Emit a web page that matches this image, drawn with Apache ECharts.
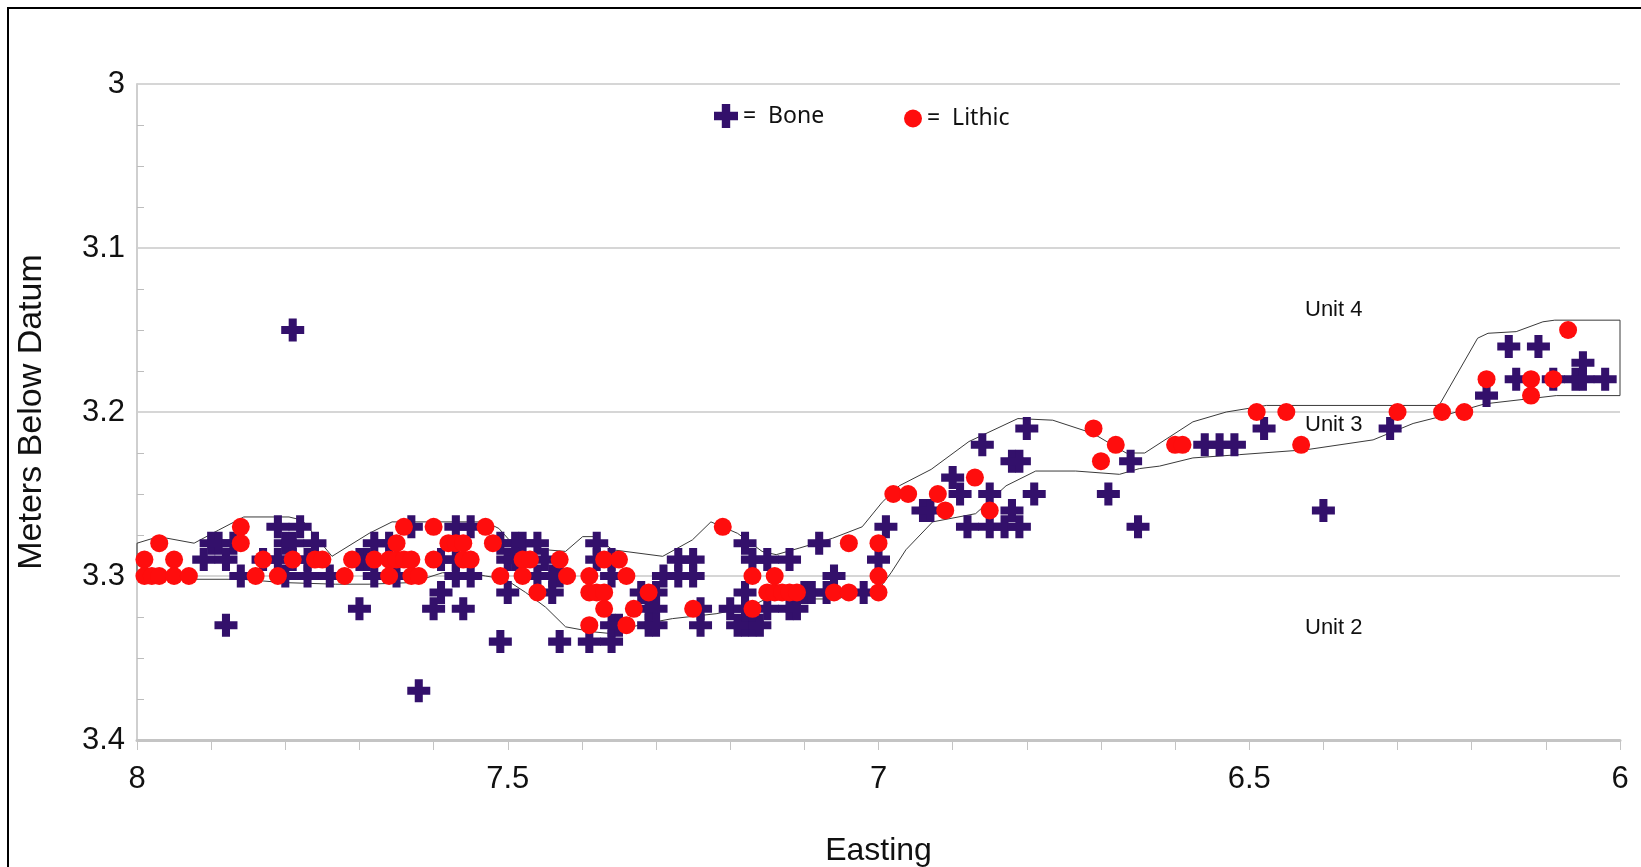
<!DOCTYPE html>
<html>
<head>
<meta charset="utf-8">
<script src="https://cdn.jsdelivr.net/npm/echarts@6/dist/echarts.min.js"></script>
<style>
  html, body { margin: 0; padding: 0; background: #fff; }
  #chart { width: 1641px; height: 867px; }
</style>
</head>
<body>
<div id="chart"></div>
<script>
// ---- Data (Easting, Meters Below Datum) ----
const boneData = [
  [7.91,3.29],[7.90,3.28],[7.89,3.28],[7.88,3.29],[7.87,3.28],[7.86,3.30],[7.88,3.33],
  [7.81,3.27],[7.78,3.27],[7.80,3.28],[7.79,3.28],[7.76,3.28],[7.81,3.29],[7.79,3.29],[7.77,3.29],[7.83,3.29],
  [7.80,3.30],[7.77,3.30],[7.74,3.30],[7.70,3.32],[7.79,3.15],
  [7.68,3.28],[7.69,3.29],[7.68,3.30],[7.65,3.30],[7.66,3.28],[7.70,3.29],
  [7.63,3.27],[7.62,3.37],[7.59,3.31],[7.60,3.32],[7.56,3.32],
  [7.57,3.27],[7.55,3.27],[7.57,3.29],[7.59,3.29],[7.57,3.30],[7.55,3.30],
  [7.51,3.34],[7.50,3.31],[7.51,3.28],[7.49,3.28],[7.48,3.28],[7.46,3.28],[7.50,3.29],[7.49,3.29],
  [7.44,3.31],[7.45,3.29],[7.43,3.30],[7.46,3.30],[7.44,3.30],
  [7.43,3.34],[7.39,3.34],[7.36,3.34],
  [7.38,3.28],[7.38,3.29],[7.36,3.29],[7.36,3.30],[7.32,3.31],[7.30,3.31],
  [7.31,3.32],[7.30,3.32],[7.31,3.33],[7.30,3.33],[7.36,3.33],[7.35,3.33],
  [7.29,3.30],[7.27,3.29],[7.25,3.29],[7.27,3.30],[7.25,3.30],
  [7.24,3.32],[7.24,3.33],
  [7.18,3.28],[7.17,3.29],[7.15,3.29],[7.12,3.29],[7.18,3.31],
  [7.20,3.32],[7.18,3.32],[7.18,3.33],[7.17,3.33],[7.19,3.33],[7.16,3.33],
  [7.15,3.32],[7.12,3.32],[7.11,3.32],[7.10,3.31],[7.09,3.31],[7.07,3.31],
  [7.08,3.28],[7.06,3.30],[7.02,3.31],[7.00,3.29],[6.99,3.27],
  [6.94,3.26],[6.93,3.26],[6.90,3.24],[6.89,3.25],[6.85,3.25],
  [6.88,3.27],[6.85,3.27],[6.83,3.27],[6.81,3.27],[6.82,3.26],
  [6.82,3.23],[6.81,3.23],[6.86,3.22],[6.80,3.21],[6.79,3.25],
  [6.66,3.23],[6.69,3.25],[6.65,3.27],
  [6.56,3.22],[6.54,3.22],[6.52,3.22],[6.48,3.21],[6.40,3.26],
  [6.31,3.21],[6.18,3.19],[6.15,3.16],[6.11,3.16],[6.14,3.18],[6.09,3.18],[6.06,3.18],[6.05,3.18],[6.05,3.17],[6.02,3.18]
];

const lithicData = [
  [7.99,3.29],[7.97,3.28],[7.95,3.29],
  [7.99,3.30],[7.98,3.30],[7.97,3.30],[7.95,3.30],[7.93,3.30],
  [7.86,3.27],[7.86,3.28],[7.84,3.30],[7.83,3.29],[7.81,3.30],[7.79,3.29],[7.76,3.29],[7.75,3.29],[7.72,3.30],[7.71,3.29],
  [7.68,3.29],[7.66,3.29],[7.65,3.29],[7.64,3.29],[7.63,3.29],[7.60,3.29],
  [7.65,3.28],[7.64,3.27],[7.60,3.27],
  [7.66,3.30],[7.63,3.30],[7.62,3.30],
  [7.58,3.28],[7.57,3.28],[7.56,3.28],[7.53,3.27],[7.52,3.28],
  [7.56,3.29],[7.55,3.29],[7.51,3.30],
  [7.48,3.29],[7.47,3.29],[7.48,3.30],[7.46,3.31],[7.43,3.29],[7.42,3.30],
  [7.39,3.30],[7.39,3.31],[7.38,3.31],[7.37,3.31],[7.37,3.32],[7.39,3.33],
  [7.37,3.29],[7.35,3.29],[7.34,3.30],[7.33,3.32],[7.34,3.33],[7.31,3.31],
  [7.25,3.32],[7.21,3.27],[7.17,3.30],[7.14,3.30],[7.17,3.32],
  [7.15,3.31],[7.14,3.31],[7.13,3.31],[7.12,3.31],[7.11,3.31],
  [7.06,3.31],[7.04,3.31],[7.00,3.31],[7.00,3.30],[7.04,3.28],[7.00,3.28],
  [6.98,3.25],[6.96,3.25],[6.92,3.25],[6.91,3.26],[6.87,3.24],[6.85,3.26],
  [6.71,3.21],[6.68,3.22],[6.70,3.23],[6.60,3.22],[6.59,3.22],
  [6.49,3.20],[6.45,3.20],[6.43,3.22],
  [6.30,3.20],[6.24,3.20],[6.21,3.20],[6.18,3.18],[6.12,3.18],[6.12,3.19],[6.09,3.18],[6.07,3.15]
];

// Unit 3 boundary traced as a closed outline: upper edge (west to east), then lower edge (east to west)
const upperBoundary = [
  [8.00,3.280],[7.971,3.276],[7.923,3.280],[7.89,3.272],[7.856,3.264],[7.795,3.264],[7.777,3.266],
  [7.737,3.288],[7.687,3.274],[7.656,3.267],[7.530,3.267],[7.512,3.271],[7.498,3.278],[7.449,3.284],
  [7.422,3.285],[7.399,3.276],[7.381,3.276],[7.359,3.284],[7.291,3.288],[7.251,3.278],[7.226,3.267],
  [7.190,3.274],[7.157,3.285],[7.138,3.287],[7.107,3.283],[7.062,3.277],[7.022,3.270],[6.995,3.255],
  [6.972,3.245],[6.929,3.235],[6.878,3.218],[6.812,3.204],[6.765,3.205],[6.711,3.213],[6.666,3.225],
  [6.641,3.225],[6.576,3.206],[6.531,3.200],[6.477,3.196],[6.244,3.196],[6.192,3.155],[6.178,3.152],
  [6.140,3.151],[6.104,3.145],[6.088,3.144],[6.000,3.144],[6.000,3.190]
];
const lowerBoundary = [
  [6.000,3.190],[6.086,3.190],[6.182,3.195],[6.244,3.203],[6.279,3.207],[6.333,3.217],[6.423,3.223],
  [6.513,3.226],[6.576,3.228],[6.621,3.233],[6.648,3.2345],[6.675,3.238],[6.734,3.236],[6.788,3.236],
  [6.828,3.245],[6.869,3.262],[6.927,3.267],[6.963,3.284],[6.983,3.298],[7.001,3.309],[7.017,3.311],
  [7.062,3.314],[7.152,3.314],[7.174,3.319],[7.219,3.323],[7.278,3.326],[7.314,3.329],[7.341,3.332],
  [7.363,3.335],[7.386,3.334],[7.422,3.331],[7.449,3.319],[7.476,3.310],[7.503,3.302],[7.530,3.300],
  [7.552,3.298],[7.588,3.298],[7.629,3.304],[7.687,3.305],[7.732,3.305],[7.804,3.304],[7.858,3.302],
  [7.921,3.302],[8.000,3.302],[8.000,3.280]
];

const unitLabels = ['Unit 4', 'Unit 3', 'Unit 2'];
const seriesNames = ['Bone', 'Lithic'];

// ---- Chart ----
const crossPath = 'path://M32.5,0H67.5V32.5H100V67.5H67.5V100H32.5V67.5H0V32.5H32.5Z';
const boneColor = '#33106b';
const lithicColor = '#ff0d0d';
const axisFont = 'Liberation Sans, Arial, sans-serif';

const chart = echarts.init(document.getElementById('chart'), null, { renderer: 'canvas' });

const unitY = [311, 426, 629];

chart.setOption({
  backgroundColor: '#ffffff',
  animation: false,
  grid: { left: 137, right: 21, top: 84, bottom: 127, containLabel: false, outerBoundsMode: 'none' },
  legend: [
    {
      data: [{ name: seriesNames[0], icon: crossPath }],
      left: 709, top: 99, itemWidth: 24, itemHeight: 24, itemGap: 0,
      formatter: '=  {name}', selectedMode: false,
      textStyle: { fontFamily: 'Noto Sans', fontSize: 23, color: '#111' }
    },
    {
      data: [{ name: seriesNames[1], icon: 'circle' }],
      left: 899, top: 102, itemWidth: 18, itemHeight: 18, itemGap: 0,
      formatter: '=  {name}', selectedMode: false,
      textStyle: { fontFamily: 'Noto Sans', fontSize: 23, color: '#111' }
    }
  ],
  xAxis: {
    type: 'value', min: 6, max: 8, interval: 0.5, inverse: true,
    name: 'Easting', nameLocation: 'middle', nameGap: 95,
    nameTextStyle: { fontFamily: axisFont, fontSize: 32, color: '#111' },
    axisLine: { show: true, onZero: false, lineStyle: { color: '#c4c4c4', width: 3 } },
    axisTick: { show: true, length: 10, lineStyle: { color: '#c4c4c4', width: 1 } },
    minorTick: { show: true, splitNumber: 5, length: 10, lineStyle: { color: '#c4c4c4', width: 1 } },
    axisLabel: { fontFamily: axisFont, fontSize: 31, color: '#111', margin: 24 },
    splitLine: { show: false }
  },
  yAxis: {
    type: 'value', min: 3, max: 3.4, interval: 0.1, inverse: true,
    name: 'Meters Below Datum', nameLocation: 'middle', nameGap: 88,
    nameTextStyle: { fontFamily: axisFont, fontSize: 34, color: '#111' },
    axisLine: { show: true, lineStyle: { color: '#cfcfcf', width: 2 } },
    axisTick: { show: false, inside: true, length: 7 },
    minorTick: { show: true, splitNumber: 4, length: 7, lineStyle: { color: '#bdbdbd', width: 1 } },
    axisLabel: { fontFamily: axisFont, fontSize: 31, color: '#111', margin: 12 },
    splitLine: { show: true, lineStyle: { color: '#d6d6d6', width: 2 } }
  },
  graphic: [
    { type: 'polyline', silent: true, z: -1,
      shape: { points: [[8, 867], [8, 8], [1641, 8]] },
      style: { stroke: '#000', lineWidth: 2, fill: null } },
    ...unitLabels.map((t, i) => ({
      type: 'text', left: 1305, top: unitY[i] - 12, z: 10,
      style: { text: t, fontFamily: axisFont, fontSize: 22, fill: '#111' }
    }))
  ],
  series: [
    {
      name: 'Unit 3 boundary', type: 'line', data: upperBoundary.concat(lowerBoundary),
      symbol: 'none', silent: true, z: 1,
      lineStyle: { color: '#3a3a3a', width: 1 }
    },
    {
      name: seriesNames[0], type: 'scatter', data: boneData, z: 2,
      symbol: crossPath, symbolSize: 23,
      itemStyle: { color: boneColor, opacity: 1 }
    },
    {
      name: seriesNames[1], type: 'scatter', data: lithicData, z: 3,
      symbol: 'circle', symbolSize: 18,
      itemStyle: { color: lithicColor, opacity: 1 }
    }
  ]
});
</script>
</body>
</html>
